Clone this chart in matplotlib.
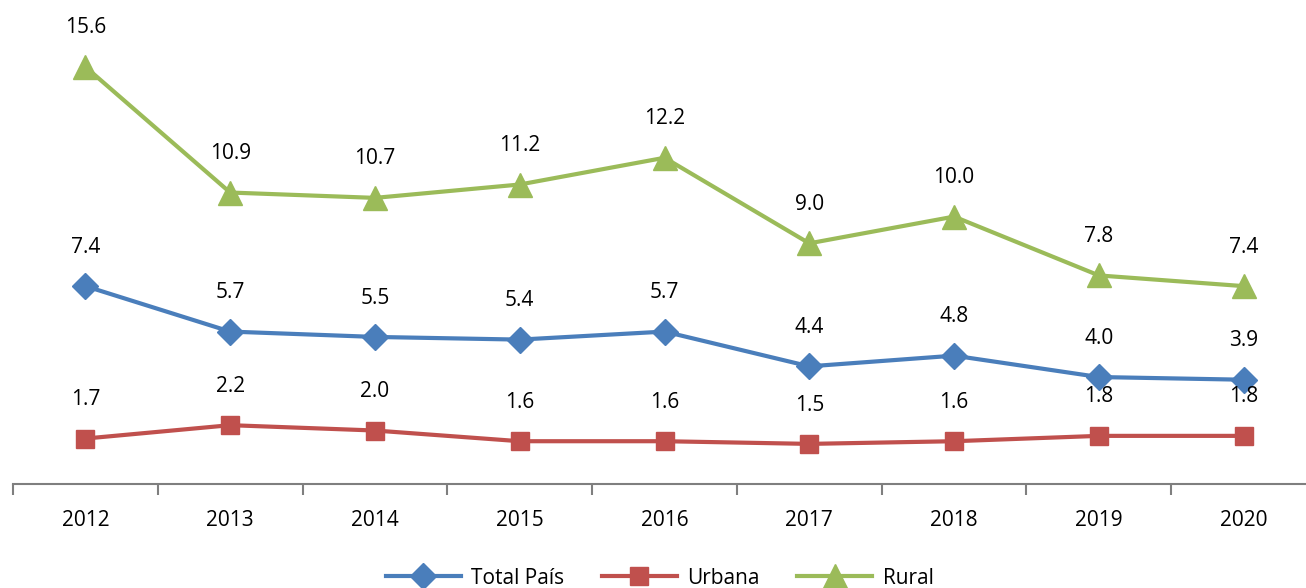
import matplotlib.pyplot as plt
import numpy as np

years = ["2012", "2013", "2014", "2015", "2016", "2017", "2018", "2019", "2020"]
total = [7.4, 5.7, 5.5, 5.4, 5.7, 4.4, 4.8, 4.0, 3.9]
urbana = [1.7, 2.2, 2.0, 1.6, 1.6, 1.5, 1.6, 1.8, 1.8]
rural = [15.6, 10.9, 10.7, 11.2, 12.2, 9.0, 10.0, 7.8, 7.4]

plt.rcParams['font.family'] = ['Open Sans', 'DejaVu Sans']

fig = plt.figure(figsize=(13.06, 5.88), dpi=100)
# axes runs a bit past the right edge, like the original
ax = fig.add_axes([13 / 1306, 1 - 484 / 588, 1303 / 1306, 484 / 588])

x = np.arange(len(years))
series = [
    (total, "Total País", "#4A7EBB", "D", 13),
    (urbana, "Urbana", "#C0504D", "s", 13),
    (rural, "Rural", "#9BBB59", "^", 17),
]
for vals, name, col, mk, ms in series:
    ax.plot(x, vals, color=col, lw=3, marker=mk, markersize=ms, label=name)
    for xi, v in zip(x, vals):
        ax.annotate(f"{v:.1f}", (xi, v), xytext=(0, 28), textcoords="offset points",
                    ha="center", va="center", fontsize=15)

ax.set_xlim(-0.5, 8.5)
ax.set_ylim(0, 18.1)
for s in ["top", "left", "right"]:
    ax.spines[s].set_visible(False)
ax.spines["bottom"].set_color("#7f7f7f")
ax.spines["bottom"].set_linewidth(1.5)
ax.set_yticks([])
ax.set_xticks(x)
ax.set_xticklabels(years, fontsize=15)
ax.tick_params(axis="x", which="major", length=0, pad=19)
ax.set_xticks(np.arange(-0.5, 9.0, 1.0), minor=True)
ax.tick_params(axis="x", which="minor", length=8, width=1.5, color="#7f7f7f")

fig.legend(loc="center", bbox_to_anchor=(0.505, 1 - 578 / 588), ncol=3, frameon=False,
           fontsize=15, handlelength=3.6, handletextpad=0.5, columnspacing=1.8)

fig.savefig("out.png", dpi=100)
